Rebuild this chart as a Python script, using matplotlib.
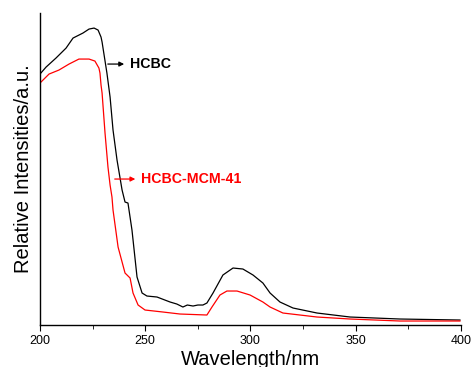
import matplotlib.pyplot as plt
from matplotlib.ticker import MultipleLocator

plt.rcParams['font.family'] = ['Liberation Sans', 'DejaVu Sans']

# HCBC (black)
hcbc_nm = [200, 202.9, 207.6, 212.4, 215.7, 220.4, 223.3, 225.7, 227.6, 229.0, 229.5,
           231.8, 233.3, 234.7, 236.6, 239.0, 240.4, 241.8, 243.7, 246.1, 248.5, 250.8,
           255.6, 261.8, 265.0, 267.9, 270.0, 272.7, 275.0, 277.4, 279.3, 282.2, 286.9,
           291.7, 296.4, 301.2, 305.9, 309.3, 314.0, 320.2, 331.6, 347.3, 371.0, 399.5]
hcbc_int = [251, 258, 267, 277, 287, 292, 296, 297, 295, 288, 283,
            252, 228, 195, 165, 135, 123, 122, 95, 48, 32, 29,
            28, 23, 21, 18, 20, 19, 20, 20, 22, 32, 50,
            57, 56, 50, 42, 32, 23, 17, 12, 8, 6, 5]

# HCBC-MCM-41 (red)
mcm_nm = [200, 204.3, 209.0, 213.8, 218.5, 223.3, 226.1, 228.0, 228.5, 229.0, 229.5,
          230.9, 232.3, 233.3, 234.2, 234.7, 237.1, 240.4, 242.8, 244.2, 246.6, 249.9,
          258.4, 266.5, 279.3, 281.7, 285.5, 288.8, 293.6, 299.8, 305.9, 309.3, 315.4,
          331.6, 347.3, 371.0, 399.5]
mcm_int = [242, 251, 255, 261, 266, 266, 264, 257, 252, 240, 232,
           192, 158, 140, 128, 115, 78, 52, 47, 32, 20, 15,
           13, 11, 10, 18, 30, 34, 34, 30, 23, 18, 12,
           8, 6, 4, 4]

fig = plt.figure(figsize=(4.72, 3.67), dpi=100)
ax = fig.add_axes([0.0847, 0.1144, 0.892, 0.850])

ax.plot(hcbc_nm, hcbc_int, color='black', lw=0.9)
ax.plot(mcm_nm, mcm_int, color='red', lw=0.9)

ax.annotate('', xy=(241.3, 261), xytext=(230.9, 261),
            arrowprops=dict(arrowstyle='-|>', color='black', lw=0.9, mutation_scale=7))
ax.text(242.6, 261, 'HCBC', color='black', fontsize=10.2, fontweight='bold', va='center')
ax.annotate('', xy=(246.6, 146), xytext=(234.2, 146),
            arrowprops=dict(arrowstyle='-|>', color='red', lw=0.9, mutation_scale=7))
ax.text(247.8, 146, 'HCBC-MCM-41', color='red', fontsize=10.2, fontweight='bold', va='center')

ax.set_xlim(200, 400)
ax.set_ylim(0, 312)
ax.xaxis.set_major_locator(MultipleLocator(50))
ax.xaxis.set_minor_locator(MultipleLocator(25))
ax.tick_params(axis='x', which='major', direction='out', length=4, labelsize=9, pad=3)
ax.tick_params(axis='x', which='minor', direction='out', length=3)
ax.set_yticks([])
ax.spines['top'].set_visible(False)
ax.spines['right'].set_visible(False)
ax.spines['left'].set_linewidth(1.0)
ax.spines['bottom'].set_linewidth(1.0)

ax.set_xlabel('Wavelength/nm', fontsize=14.5, labelpad=2)
ax.set_ylabel('Relative Intensities/a.u.', fontsize=14.5, labelpad=5)

fig.savefig('out.png', dpi=100)
